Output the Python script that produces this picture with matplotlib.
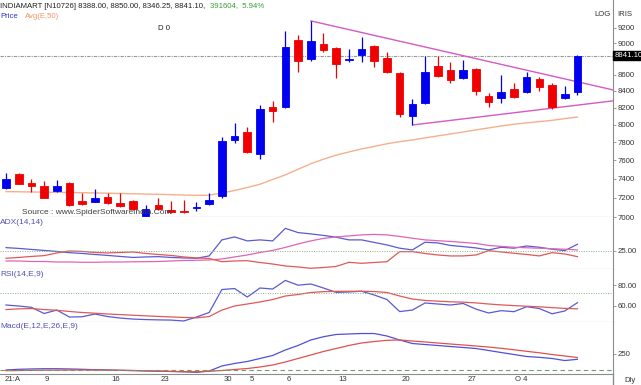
import matplotlib
matplotlib.use("Agg")
import matplotlib.pyplot as plt
import matplotlib.transforms as mtransforms
from matplotlib.lines import Line2D
from matplotlib.ticker import NullLocator

plt.rcParams["font.family"] = ["Liberation Sans", "DejaVu Sans"]

# Дані свічок (денні)
opens = [7300, 7445, 7353, 7321, 7267, 7357, 7164, 7153, 7210, 7143,
         7164, 7010, 7122, 7071, 7061, 7091, 7133, 7216, 7825, 7915,
         7669, 8208, 8208, 9043, 8799, 8991, 8940, 8790, 8850, 8965,
         8811, 8622, 8102, 8256, 8710, 8659, 8560, 8672, 8340, 8316,
         8425, 8388, 8547, 8474, 8316, 8388.00]
highs = [7460, 7455, 7400, 7370, 7384, 7365, 7247, 7288, 7247, 7247,
         7175, 7122, 7200, 7164, 7174, 7153, 7247, 7858, 8020, 7970,
         8232, 8280, 9162, 9109, 9295, 9135, 8952, 8927, 9083, 8975,
         8890, 8634, 8300, 8837, 8837, 8760, 8786, 8685, 8376, 8600,
         8498, 8634, 8572, 8498, 8461, 8850.00]
lows = [7290, 7345, 7258, 7190, 7260, 7111, 7122, 7150, 7133, 7105,
        7075, 7000, 7070, 7045, 7045, 7061, 7120, 7195, 7792, 7680,
        7613, 8032, 8200, 8634, 8773, 8890, 8560, 8760, 8760, 8697,
        8620, 8090, 7997, 8244, 8572, 8498, 8548, 8352, 8208, 8256,
        8316, 8376, 8400, 8184, 8304, 8346.25]
closes = [7400, 7345, 7321, 7200, 7321, 7122, 7133, 7200, 7143, 7111,
          7081, 7081, 7081, 7050, 7050, 7101, 7174, 7814, 7869, 7691,
          8184, 8161, 8952, 8773, 9030, 8914, 8735, 8800, 8927, 8773,
          8634, 8125, 8244, 8634, 8585, 8535, 8659, 8400, 8268, 8388,
          8328, 8572, 8449, 8208, 8364, 8841.10]

# Експоненційна середня E,50
ema50 = [7262, 7260, 7258, 7256, 7254, 7252, 7250, 7248, 7245, 7242,
         7239, 7236, 7233, 7230, 7226, 7222, 7225, 7247, 7274, 7305,
         7340, 7390, 7440, 7500, 7560, 7610, 7655, 7690, 7724, 7752,
         7782, 7805, 7825, 7848, 7871, 7893, 7916, 7939, 7962, 7985,
         8005, 8020, 8035, 8050, 8070, 8088]

# Лінії трикутника
upper_line_x = [24.0, 47.8]
upper_line_y = [9295, 8412]
lower_line_x = [32.05, 47.8]
lower_line_y = [7997, 8280]

# ADX(14,14)
adx_plus = [29.6, 28.5, 27.1, 25.7, 24.3, 22.6, 21.5, 20.1, 18.8, 17.4,
            16.0, 16.7, 17.1, 16.0, 15.3, 14.9, 18.1, 40.3, 44.4, 38.9,
            40.3, 38.9, 56.3, 50.4, 48.6, 46.5, 44.0, 40.3, 40.3, 36.8,
            33.3, 28.8, 26.4, 37.1, 36.1, 32.6, 31.0, 29.2, 26.4, 30.1,
            28.8, 31.9, 30.1, 27.4, 25.4, 34.3]
adx_line = [11.1, 11.1, 10.4, 10.4, 9.7, 9.7, 9.3, 9.3, 9.7, 9.7,
            10.0, 10.1, 10.4, 11.1, 11.8, 12.1, 12.5, 13.9, 16.7, 19.4,
            22.9, 25.7, 29.9, 34.7, 38.9, 42.4, 44.4, 45.8, 47.2, 47.9,
            47.2, 45.1, 42.6, 40.3, 39.2, 38.2, 36.8, 35.4, 32.6, 31.3,
            30.1, 29.4, 28.8, 28.1, 27.4, 26.4]
adx_minus = [14.9, 16.0, 17.4, 18.5, 22.2, 25.0, 24.3, 22.9, 22.2, 22.9,
             23.6, 21.5, 20.1, 18.8, 16.7, 15.3, 14.6, 10.1, 11.1, 11.5,
             9.0, 6.9, 4.2, 2.8, 1.0, 2.1, 3.5, 9.3, 7.9, 9.0,
             10.1, 24.0, 24.0, 21.5, 19.4, 18.1, 18.1, 19.4, 25.4, 23.6,
             21.8, 20.1, 18.1, 22.6, 20.8, 17.1]

# RSI(14,E,9)
rsi = [60.5, 59.5, 58.2, 52.1, 55.5, 48.6, 48.9, 51.6, 49.1, 47.6,
       46.6, 46.1, 45.8, 45.6, 44.7, 48.6, 53.1, 75.8, 76.8, 68.4,
       77.3, 76.3, 84.8, 80.1, 81.3, 77.3, 73.0, 73.4, 74.1, 70.4,
       65.9, 54.0, 55.5, 62.5, 61.5, 60.5, 62.0, 56.5, 52.6, 54.9,
       53.9, 58.8, 57.0, 51.8, 54.6, 62.8]
rsi_signal = [56.0, 56.7, 57.0, 56.0, 55.3, 54.1, 53.1, 52.4, 51.6, 51.0,
              50.4, 49.8, 49.2, 48.7, 48.2, 47.8, 49.1, 55.5, 59.5, 61.5,
              63.5, 65.9, 69.4, 70.9, 72.9, 73.7, 74.0, 74.1, 74.1, 73.8,
              72.9, 69.4, 66.4, 65.0, 64.3, 63.7, 63.3, 62.6, 61.5, 60.6,
              59.9, 59.3, 58.7, 57.9, 57.2, 56.7]

# Macd(E,12,E,26,E,9)
macd = [0, 11, 16, 20, 20, 16, 11, 5, 0, -5,
        -9, -14, -19, -23, -28, -36, -16, 63, 102, 133,
        180, 227, 313, 383, 469, 520, 555, 563, 570, 570,
        531, 469, 414, 398, 383, 367, 352, 336, 305, 273,
        242, 211, 198, 180, 148, 167]
macd_signal = [-11, -8, -5, -3, -2, 0, 0, 0, -2, -5,
               -8, -13, -17, -22, -25, -27, -20, -8, 8, 23,
               47, 78, 125, 180, 234, 289, 336, 383, 422, 445,
               464, 469, 453, 438, 422, 406, 391, 375, 359, 339,
               316, 292, 269, 242, 219, 195]

# Підписи осей
price_ticks = [7000, 7200, 7400, 7600, 7800, 8000, 8200, 8400, 8600, 9000, 9200]
date_pos = [0.5, 3.2, 8.6, 12.5, 17.5, 19.4, 22.3, 26.5, 31.5, 36.7, 40.6]
date_labels = ["21:A", "9", "16", "23", "30", "5", "6", "13", "20", "27", "O 4"]

W, H = 641, 385
fsize = 5.6
grid_col = "#8c8c8c"


def fx(px):
    return px / W


def fy(py):
    return 1 - py / H


fig = plt.figure(figsize=(W / 100, H / 100), dpi=100)

ax_price = fig.add_axes([0, fy(217), fx(613), 217 / H])
ax_adx = fig.add_axes([0, fy(269), fx(613), 52 / H], sharex=ax_price)
ax_rsi = fig.add_axes([0, fy(322), fx(613), 53 / H], sharex=ax_price)
ax_macd = fig.add_axes([0, fy(374), fx(613), 52 / H], sharex=ax_price)

for ax in [ax_price, ax_adx, ax_rsi, ax_macd]:
    ax.set_facecolor("white")
    ax.spines["top"].set_visible(False)
    ax.spines["left"].set_visible(False)
    ax.spines["bottom"].set_color(grid_col)
    ax.spines["right"].set_color(grid_col)
    ax.tick_params(axis="y", which="both", right=True, left=False,
                   labelright=True, labelleft=False, length=2, width=0.6,
                   color=grid_col, labelsize=fsize, pad=1.5,
                   labelcolor="#333333")
    ax.tick_params(axis="x", bottom=False, labelbottom=False)

# Ціновий графік (логарифмічна шкала)
idx = list(range(len(closes)))
for i in idx:
    col = "#0000f0" if closes[i] >= opens[i] else "#f00000"
    ax_price.vlines(i, lows[i], highs[i], color=col, linewidth=0.9, zorder=3)
    ax_price.bar(i, abs(closes[i] - opens[i]), bottom=min(opens[i], closes[i]),
                 width=0.6, color=col, edgecolor=col, linewidth=0.6, zorder=4)

ax_price.plot(idx, ema50, color="#f4b08c", linewidth=1.0, zorder=2)
ax_price.plot(upper_line_x, upper_line_y, color="#d45ac4", linewidth=1.0, zorder=2)
ax_price.plot(lower_line_x, lower_line_y, color="#d45ac4", linewidth=1.0, zorder=2)
ax_price.axhline(closes[-1], color="#8fa08f", linewidth=0.8,
                 linestyle=(0, (3, 1, 1, 1)), zorder=1)

ax_price.set_yscale("log")
ax_price.set_ylim(7000, 9580)
ax_price.set_xlim(-0.472, 47.8)
ax_price.set_yticks(price_ticks)
ax_price.set_yticklabels([str(t) for t in price_ticks])
ax_price.yaxis.set_minor_locator(NullLocator())

# Мітка останньої ціни на правій осі
trans = mtransforms.blended_transform_factory(ax_price.transAxes, ax_price.transData)
ax_price.text(1.002, closes[-1], f"{closes[-1]:.2f}", transform=trans,
              fontsize=fsize, color="white", va="center", ha="left",
              bbox=dict(boxstyle="square,pad=0.15", facecolor="black",
                        edgecolor="black"))

fig.text(fx(22), fy(213), "Source : www.SpiderSoftwareIndia.Com", fontsize=6,
         color="#404040", va="center", ha="left", zorder=1)

# ADX
ax_adx.plot(idx, adx_plus, color="#5a5ad2", linewidth=0.9)
ax_adx.plot(idx, adx_line, color="#e064b4", linewidth=0.9)
ax_adx.plot(idx, adx_minus, color="#e05858", linewidth=0.9)
ax_adx.axhline(25, color="#88b088", linewidth=0.7, linestyle=(0, (1, 1.5)))
ax_adx.set_ylim(0, 72)
ax_adx.set_yticks([25])
ax_adx.set_yticklabels(["25.00"])

# RSI
ax_rsi.plot(idx, rsi, color="#5a5ad2", linewidth=0.9)
ax_rsi.plot(idx, rsi_signal, color="#e05858", linewidth=0.9)
ax_rsi.axhline(72, color="#88b088", linewidth=0.7, linestyle=(0, (1, 1.5)))
ax_rsi.set_ylim(43.7, 96.1)
ax_rsi.set_yticks([60, 80])
ax_rsi.set_yticklabels(["60.00", "80.00"])

# MACD
ax_macd.plot(idx, macd, color="#5050d6", linewidth=0.9)
ax_macd.plot(idx, macd_signal, color="#e05050", linewidth=0.9)
ax_macd.axhline(0, color="#6aa06a", linewidth=0.8, linestyle=(0, (4, 3)))
ax_macd.set_ylim(-62.5, 750)
ax_macd.set_yticks([250])
ax_macd.set_yticklabels(["250"])
ax_macd.set_xticks(date_pos)
ax_macd.set_xticklabels(date_labels)
ax_macd.tick_params(axis="x", bottom=False, labelbottom=True, length=0,
                    pad=1.5, labelsize=fsize, labelcolor="#333333")

# Підписи панелей
panel_col = "#5252b4"
fig.text(fx(0), fy(222), "ADX(14,14)", fontsize=6, color=panel_col, va="center")
fig.text(fx(0), fy(275), "RSI(14,E,9)", fontsize=6, color=panel_col, va="center")
fig.text(fx(0), fy(327), "Macd(E,12,E,26,E,9)", fontsize=6, color=panel_col, va="center")

# Заголовок
fig.text(fx(0), fy(6), "INDIAMART [N10726] 8388.00, 8850.00, 8346.25, 8841.10,",
         fontsize=5.6, color="#222222", va="center")
fig.text(fx(210), fy(6), "391604,  5.94%", fontsize=5.6, color="#3a9a3a", va="center")
fig.text(fx(0), fy(16), "Price", fontsize=5.6, color="#3030d0", va="center")
fig.text(fx(25), fy(16), "Avg(E,50)", fontsize=5.6, color="#f0946a", va="center")
fig.text(fx(158), fy(28), "D 0", fontsize=5.6, color="#222222", va="center")
fig.text(fx(611), fy(15), "LOG", fontsize=5.6, color="#333333", va="center", ha="right")
fig.text(fx(617), fy(15), "IRIS", fontsize=5.6, color="#333333", va="center")
fig.text(fx(630), fy(380), "Dly", fontsize=5.6, color="#333333", va="center", ha="center")

fig.add_artist(Line2D([fx(613), fx(613)], [fy(374), fy(385)],
                      color=grid_col, linewidth=1.0))

fig.savefig("out.png", dpi=100)
